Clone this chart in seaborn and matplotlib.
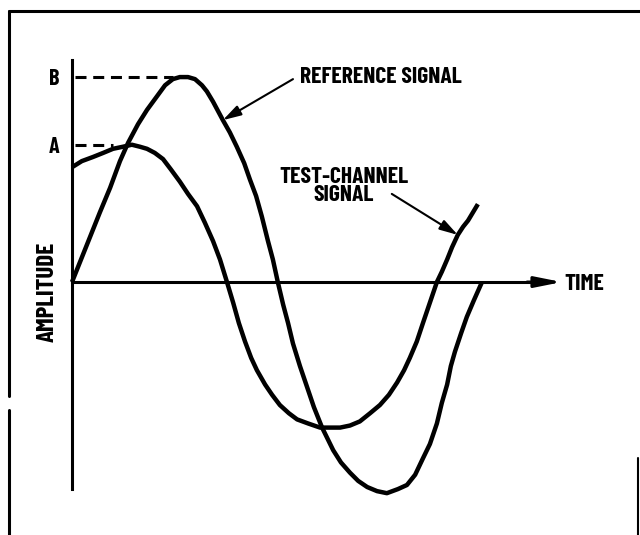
import numpy as np
import pandas as pd
import matplotlib
matplotlib.use("Agg")
import matplotlib.pyplot as plt
import seaborn as sns

# ==================== data ====================
# time in arbitrary units (one reference period ~ 10), amplitude with B = 1
ref_time = [0.00, 0.20, 0.44, 0.68, 0.93, 1.17, 1.37, 1.61, 1.83, 2.05, 2.27,
            2.46, 2.63, 2.83, 3.00, 3.17, 3.29, 3.44, 3.68, 3.85, 4.02, 4.20,
            4.34, 4.49, 4.63, 4.78, 4.90, 5.02, 5.15, 5.27, 5.39, 5.56, 5.73,
            5.90, 6.10, 6.37, 6.56, 6.78, 6.98, 7.20, 7.44, 7.68, 7.95, 8.17,
            8.37, 8.56, 8.73, 8.90, 9.02, 9.15, 9.24, 9.34, 9.49, 9.63, 9.80, 10.00]
ref_amp = [0.00, 0.10, 0.22, 0.34, 0.46, 0.59, 0.68, 0.77, 0.84, 0.90, 0.96,
           0.99, 1.00, 1.00, 0.99, 0.96, 0.93, 0.88, 0.79, 0.73, 0.66, 0.58,
           0.50, 0.42, 0.32, 0.20, 0.11, 0.00, -0.11, -0.20, -0.30, -0.41, -0.51,
           -0.61, -0.71, -0.82, -0.88, -0.93, -0.97, -1.00, -1.02, -1.03, -1.01, -0.99,
           -0.94, -0.86, -0.79, -0.69, -0.59, -0.50, -0.41, -0.34, -0.25, -0.17, -0.09, 0.00]

test_time = [0.00, 0.24, 0.51, 0.76, 1.00, 1.24, 1.46, 1.66, 1.83, 2.02, 2.22,
             2.41, 2.63, 2.83, 3.05, 3.24, 3.44, 3.61, 3.78, 3.93, 4.07, 4.22,
             4.37, 4.51, 4.71, 4.88, 5.07, 5.29, 5.49, 5.76, 6.05, 6.29, 6.54,
             6.78, 7.02, 7.27, 7.51, 7.73, 7.93, 8.10, 8.24, 8.41, 8.56, 8.73,
             8.90, 9.02, 9.15, 9.27, 9.41, 9.54, 9.66, 9.78, 9.90]
test_amp = [0.56, 0.59, 0.61, 0.63, 0.65, 0.66, 0.67, 0.66, 0.65, 0.63, 0.60,
            0.55, 0.49, 0.43, 0.37, 0.29, 0.20, 0.11, 0.00, -0.10, -0.20, -0.29,
            -0.37, -0.43, -0.50, -0.55, -0.60, -0.64, -0.67, -0.69, -0.71, -0.71, -0.71,
            -0.70, -0.68, -0.64, -0.60, -0.55, -0.49, -0.43, -0.37, -0.29, -0.20, -0.10,
            0.00, 0.05, 0.11, 0.17, 0.23, 0.27, 0.30, 0.34, 0.38]

level_names = ["B", "A"]
level_values = [1.00, 0.67]
level_peak_time = [2.46, 1.00]   # where each dashed guide meets its peak

df = pd.concat([
    pd.DataFrame({"time": ref_time, "amp": ref_amp, "signal": "REFERENCE SIGNAL"}),
    pd.DataFrame({"time": test_time, "amp": test_amp, "signal": "TEST-CHANNEL SIGNAL"}),
], ignore_index=True)

# ==================== figure ====================
sns.set_style("white")
plt.rcParams["font.family"] = ["Barlow Condensed", "DejaVu Sans"]
plt.rcParams["font.weight"] = "bold"
plt.rcParams["text.color"] = "black"
plt.rcParams["axes.labelcolor"] = "black"
plt.rcParams["ytick.color"] = "black"

fig = plt.figure(figsize=(6.4, 5.35), dpi=100)
ax = fig.add_axes([0, 0, 1, 1])

sns.lineplot(data=df, x="time", y="amp", hue="signal", units="signal",
             estimator=None, sort=False, palette=["black", "black"],
             linewidth=3.2, legend=False, ax=ax)
for ln in ax.lines:
    ln.set_solid_joinstyle("round")
    ln.set_solid_capstyle("butt")

# dashed guides from the amplitude axis to each peak
for val, tend in zip(level_values, level_peak_time):
    ax.hlines(val, 0.07, tend, colors="black", lw=2.2, linestyles=(0, (3.6, 2.2)))

ax.set_xlim(-1.756, 13.854)
ax.set_ylim(-1.234, 1.376)

# axes through the origin
for s in ["top", "right"]:
    ax.spines[s].set_visible(False)
ax.spines["left"].set_position(("data", 0))
ax.spines["bottom"].set_position(("data", 0))
ax.spines["left"].set_bounds(-1.01, 1.083)
ax.spines["bottom"].set_bounds(0, 11.3)
for s in ["left", "bottom"]:
    ax.spines[s].set_linewidth(2.2)
    ax.spines[s].set_color("black")

ax.set_xticks([])
ax.set_yticks(level_values)
ax.set_yticklabels(level_names, fontsize=16, fontweight="bold")
ax.tick_params(axis="y", length=0, pad=9)

ax.annotate("", xy=(11.95, 0), xytext=(11.1, 0),
            arrowprops=dict(arrowstyle="-|>,head_length=0.8,head_width=0.16",
                            color="black", lw=2.2, mutation_scale=20,
                            shrinkA=0, shrinkB=0))

ax.set_xlabel("TIME", fontsize=17, fontweight="bold")
ax.xaxis.set_label_coords(12.50, -0.01, transform=ax.transData)
ax.xaxis.label.set_va("center")
ax.set_ylabel("AMPLITUDE", fontsize=18, fontweight="bold")
ax.yaxis.set_label_coords(-0.60, -0.05, transform=ax.transData)
ax.yaxis.label.set_va("center")

# callouts
arrow_kw = dict(arrowstyle="-|>,head_length=0.55,head_width=0.16", color="black",
                lw=1.5, mutation_scale=20, shrinkA=0, shrinkB=0)
ax.text(5.56, 1.0, "REFERENCE SIGNAL", ha="left", va="center",
        fontsize=17, fontweight="bold")
ax.annotate("", xy=(ref_time[18], ref_amp[18]), xytext=(5.39, 0.99), arrowprops=arrow_kw)
ax.text(6.63, 0.47, "TEST-CHANNEL\nSIGNAL", ha="center", va="center",
        multialignment="center", linespacing=0.9, fontsize=17, fontweight="bold")
ax.annotate("", xy=(test_time[48], test_amp[48]), xytext=(7.80, 0.43), arrowprops=arrow_kw)

# scanned page border
W, H = 640, 535
fig.add_artist(plt.Line2D([9 / W, 1], [1 - 10.5 / H] * 2, color="black", lw=2.2))
fig.add_artist(plt.Line2D([9 / W] * 2, [1 - 10.5 / H, 1 - 396 / H], color="black", lw=2.2))
fig.add_artist(plt.Line2D([9 / W] * 2, [1 - 410 / H, 0], color="black", lw=2.2))
fig.add_artist(plt.Line2D([638 / W] * 2, [1 - 458 / H, 0], color="black", lw=1.5))

fig.savefig("out.png", dpi=100)
